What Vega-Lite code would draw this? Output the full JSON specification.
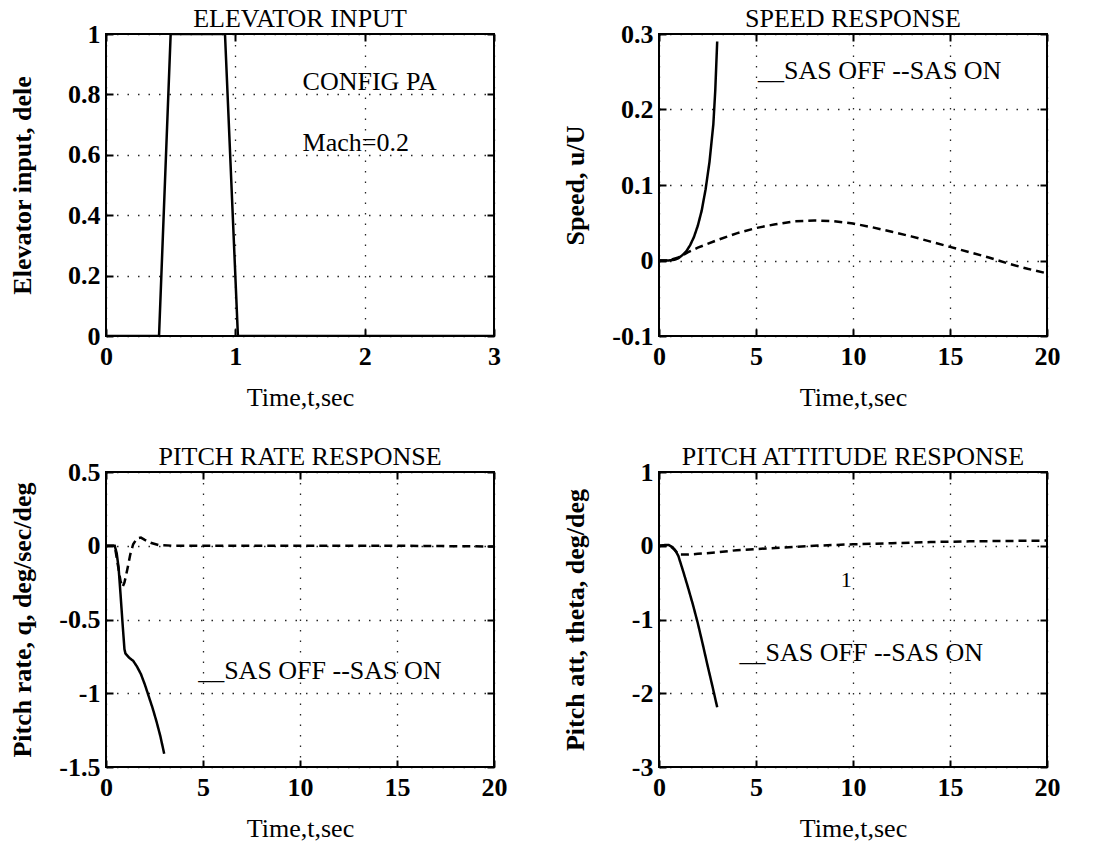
{
"$schema":"https://vega.github.io/schema/vega-lite/v6.json",
"background":"white",
"padding":{"left":7,"top":5,"right":5,"bottom":0},
"config":{
 "font":"Liberation Serif",
 "view":{"stroke":"#000","strokeWidth":2},
 "title":{"font":"Liberation Serif","fontSize":26,"fontWeight":"normal","color":"#000","offset":-11},
 "axis":{"domain":false,"grid":true,"gridColor":"#000","gridDash":[1.5,9],"gridWidth":1.3,"gridOpacity":0.85,
  "tickSize":-7,"tickColor":"#000","tickWidth":2,"labelFont":"Liberation Serif","labelFontSize":26,"labelFontWeight":"bold","labelColor":"#000","labelFlush":false,"labelOverlap":false,
  "titleFont":"Liberation Serif","titleFontSize":26,"titleColor":"#000","labelExpr":"'' + datum.value"},
 "axisX":{"labelPadding":14,"titleY":69,"titleFontWeight":"normal","titleBaseline":"alphabetic"},
 "axisY":{"labelPadding":13,"titleX":-76,"titleFontWeight":"bold","titleBaseline":"alphabetic"},
 "text":{"font":"Liberation Serif","fontSize":26,"color":"#000"}
},
"datasets":{
 "elev":[{"t":0,"v":0,"s":"SAS OFF"},{"t":0.41,"v":0,"s":"SAS OFF"},{"t":0.5,"v":1,"s":"SAS OFF"},{"t":0.92,"v":1,"s":"SAS OFF"},{"t":1.02,"v":0,"s":"SAS OFF"},{"t":3,"v":0,"s":"SAS OFF"}],
 "speed":[
  {"t":0,"v":0,"s":"SAS OFF"},{"t":0.5,"v":0,"s":"SAS OFF"},{"t":0.8,"v":0.001,"s":"SAS OFF"},{"t":1.0,"v":0.003,"s":"SAS OFF"},{"t":1.2,"v":0.007,"s":"SAS OFF"},{"t":1.4,"v":0.012,"s":"SAS OFF"},{"t":1.6,"v":0.02,"s":"SAS OFF"},{"t":1.8,"v":0.031,"s":"SAS OFF"},{"t":2.0,"v":0.046,"s":"SAS OFF"},{"t":2.2,"v":0.066,"s":"SAS OFF"},{"t":2.4,"v":0.094,"s":"SAS OFF"},{"t":2.6,"v":0.13,"s":"SAS OFF"},{"t":2.8,"v":0.18,"s":"SAS OFF"},{"t":2.9,"v":0.225,"s":"SAS OFF"},{"t":3.0,"v":0.29,"s":"SAS OFF"},
  {"t":0,"v":0,"s":"SAS ON"},{"t":0.5,"v":0,"s":"SAS ON"},{"t":1,"v":0.004,"s":"SAS ON"},{"t":1.5,"v":0.011,"s":"SAS ON"},{"t":2,"v":0.017,"s":"SAS ON"},{"t":3,"v":0.027,"s":"SAS ON"},{"t":4,"v":0.036,"s":"SAS ON"},{"t":5,"v":0.043,"s":"SAS ON"},{"t":6,"v":0.048,"s":"SAS ON"},{"t":7,"v":0.052,"s":"SAS ON"},{"t":8,"v":0.053,"s":"SAS ON"},{"t":9,"v":0.052,"s":"SAS ON"},{"t":10,"v":0.049,"s":"SAS ON"},{"t":11,"v":0.044,"s":"SAS ON"},{"t":12,"v":0.038,"s":"SAS ON"},{"t":13,"v":0.032,"s":"SAS ON"},{"t":14,"v":0.025,"s":"SAS ON"},{"t":15,"v":0.018,"s":"SAS ON"},{"t":16,"v":0.011,"s":"SAS ON"},{"t":17,"v":0.004,"s":"SAS ON"},{"t":18,"v":-0.004,"s":"SAS ON"},{"t":19,"v":-0.011,"s":"SAS ON"},{"t":20,"v":-0.017,"s":"SAS ON"}],
 "rate":[
  {"t":0,"v":0,"s":"SAS OFF"},{"t":0.45,"v":0,"s":"SAS OFF"},{"t":0.55,"v":-0.05,"s":"SAS OFF"},{"t":0.65,"v":-0.15,"s":"SAS OFF"},{"t":0.75,"v":-0.33,"s":"SAS OFF"},{"t":0.85,"v":-0.52,"s":"SAS OFF"},{"t":0.95,"v":-0.7,"s":"SAS OFF"},{"t":1.0,"v":-0.73,"s":"SAS OFF"},{"t":1.2,"v":-0.76,"s":"SAS OFF"},{"t":1.4,"v":-0.78,"s":"SAS OFF"},{"t":1.6,"v":-0.82,"s":"SAS OFF"},{"t":1.8,"v":-0.87,"s":"SAS OFF"},{"t":2.0,"v":-0.94,"s":"SAS OFF"},{"t":2.2,"v":-1.02,"s":"SAS OFF"},{"t":2.4,"v":-1.1,"s":"SAS OFF"},{"t":2.6,"v":-1.19,"s":"SAS OFF"},{"t":2.8,"v":-1.29,"s":"SAS OFF"},{"t":3.0,"v":-1.41,"s":"SAS OFF"},
  {"t":0,"v":0,"s":"SAS ON"},{"t":0.45,"v":0,"s":"SAS ON"},{"t":0.6,"v":-0.12,"s":"SAS ON"},{"t":0.75,"v":-0.24,"s":"SAS ON"},{"t":0.85,"v":-0.28,"s":"SAS ON"},{"t":0.95,"v":-0.25,"s":"SAS ON"},{"t":1.1,"v":-0.16,"s":"SAS ON"},{"t":1.25,"v":-0.06,"s":"SAS ON"},{"t":1.4,"v":0.01,"s":"SAS ON"},{"t":1.6,"v":0.05,"s":"SAS ON"},{"t":1.8,"v":0.055,"s":"SAS ON"},{"t":2.0,"v":0.04,"s":"SAS ON"},{"t":2.3,"v":0.02,"s":"SAS ON"},{"t":2.7,"v":0.005,"s":"SAS ON"},{"t":3.5,"v":0,"s":"SAS ON"},{"t":5,"v":0,"s":"SAS ON"},{"t":10,"v":0,"s":"SAS ON"},{"t":15,"v":0,"s":"SAS ON"},{"t":20,"v":-0.005,"s":"SAS ON"}],
 "att":[
  {"t":0,"v":0,"s":"SAS OFF"},{"t":0.3,"v":0.01,"s":"SAS OFF"},{"t":0.5,"v":0.01,"s":"SAS OFF"},{"t":0.7,"v":-0.02,"s":"SAS OFF"},{"t":0.9,"v":-0.09,"s":"SAS OFF"},{"t":1.0,"v":-0.14,"s":"SAS OFF"},{"t":1.25,"v":-0.35,"s":"SAS OFF"},{"t":1.5,"v":-0.57,"s":"SAS OFF"},{"t":1.75,"v":-0.8,"s":"SAS OFF"},{"t":2.0,"v":-1.05,"s":"SAS OFF"},{"t":2.25,"v":-1.33,"s":"SAS OFF"},{"t":2.5,"v":-1.62,"s":"SAS OFF"},{"t":2.75,"v":-1.9,"s":"SAS OFF"},{"t":3.0,"v":-2.19,"s":"SAS OFF"},
  {"t":0,"v":0,"s":"SAS ON"},{"t":0.5,"v":0.01,"s":"SAS ON"},{"t":0.8,"v":-0.05,"s":"SAS ON"},{"t":1.0,"v":-0.12,"s":"SAS ON"},{"t":1.5,"v":-0.12,"s":"SAS ON"},{"t":2,"v":-0.11,"s":"SAS ON"},{"t":3,"v":-0.09,"s":"SAS ON"},{"t":4,"v":-0.06,"s":"SAS ON"},{"t":5,"v":-0.045,"s":"SAS ON"},{"t":6,"v":-0.03,"s":"SAS ON"},{"t":7,"v":-0.015,"s":"SAS ON"},{"t":8,"v":0,"s":"SAS ON"},{"t":9,"v":0.01,"s":"SAS ON"},{"t":10,"v":0.02,"s":"SAS ON"},{"t":12,"v":0.035,"s":"SAS ON"},{"t":14,"v":0.05,"s":"SAS ON"},{"t":16,"v":0.06,"s":"SAS ON"},{"t":18,"v":0.065,"s":"SAS ON"},{"t":20,"v":0.07,"s":"SAS ON"}]
},
"columns":2,
"spacing":{"row":136,"column":165},
"bounds":"flush",
"concat":[
 {"width":388,"height":302,"title":"ELEVATOR INPUT",
  "layer":[
   {"data":{"name":"elev"},"mark":{"type":"line","strokeWidth":2.5,"color":"#000","clip":true},
    "encoding":{"x":{"field":"t","type":"quantitative","scale":{"domain":[0,3],"nice":false,"zero":false},"axis":{"values":[0,1,2,3],"title":"Time,t,sec"}},
     "y":{"field":"v","type":"quantitative","scale":{"domain":[0,1],"nice":false},"axis":{"values":[0,0.2,0.4,0.6,0.8,1],"title":"Elevator input, dele"}}}},
   {"data":{"name":"elev"},"mark":{"type":"line","opacity":0},
    "encoding":{"x":{"field":"t","type":"quantitative","axis":{"orient":"top","values":[0,1,2,3],"labels":false,"title":null,"grid":false}},
     "y":{"field":"v","type":"quantitative","axis":{"orient":"right","values":[0,0.2,0.4,0.6,0.8,1],"labels":false,"title":null,"grid":false}}}},
   {"data":{"values":[{}]},"mark":{"type":"text","text":"CONFIG PA","align":"left","baseline":"middle"},
    "encoding":{"x":{"datum":1.52,"type":"quantitative","axis":null},"y":{"datum":0.84,"type":"quantitative","axis":null}}},
   {"data":{"values":[{}]},"mark":{"type":"text","text":"Mach=0.2","align":"left","baseline":"middle"},
    "encoding":{"x":{"datum":1.52,"type":"quantitative","axis":null},"y":{"datum":0.64,"type":"quantitative","axis":null}}}
  ],
  "resolve":{"axis":{"x":"independent","y":"independent"}}},
 {"width":388,"height":302,"title":"SPEED RESPONSE",
  "layer":[
   {"data":{"name":"speed"},"mark":{"type":"line","strokeWidth":2.5,"color":"#000","clip":true},
    "encoding":{"x":{"field":"t","type":"quantitative","scale":{"domain":[0,20],"nice":false,"zero":false},"axis":{"values":[0,5,10,15,20],"title":"Time,t,sec"}},
     "y":{"field":"v","type":"quantitative","scale":{"domain":[-0.1,0.3],"nice":false,"zero":false},"axis":{"values":[-0.1,0,0.1,0.2,0.3],"title":"Speed, u/U"}},
     "strokeDash":{"field":"s","type":"nominal","scale":{"domain":["SAS OFF","SAS ON"],"range":[[1,0],[8,5]]},"legend":null}}},
   {"data":{"name":"speed"},"mark":{"type":"line","opacity":0},
    "encoding":{"x":{"field":"t","type":"quantitative","axis":{"orient":"top","values":[0,5,10,15,20],"labels":false,"title":null,"grid":false}},
     "y":{"field":"v","type":"quantitative","axis":{"orient":"right","values":[-0.1,0,0.1,0.2,0.3],"labels":false,"title":null,"grid":false}}}},
   {"data":{"values":[{}]},"mark":{"type":"text","text":"__SAS OFF --SAS ON","align":"left","baseline":"alphabetic"},
    "encoding":{"x":{"datum":5.1,"type":"quantitative","axis":null},"y":{"datum":0.24,"type":"quantitative","axis":null}}}
  ],
  "resolve":{"axis":{"x":"independent","y":"independent"}}},
 {"width":388,"height":295,"title":"PITCH RATE RESPONSE",
  "layer":[
   {"data":{"name":"rate"},"mark":{"type":"line","strokeWidth":2.5,"color":"#000","clip":true},
    "encoding":{"x":{"field":"t","type":"quantitative","scale":{"domain":[0,20],"nice":false,"zero":false},"axis":{"values":[0,5,10,15,20],"title":"Time,t,sec"}},
     "y":{"field":"v","type":"quantitative","scale":{"domain":[-1.5,0.5],"nice":false,"zero":false},"axis":{"values":[-1.5,-1,-0.5,0,0.5],"title":"Pitch rate, q, deg/sec/deg"}},
     "strokeDash":{"field":"s","type":"nominal","scale":{"domain":["SAS OFF","SAS ON"],"range":[[1,0],[8,5]]},"legend":null}}},
   {"data":{"name":"rate"},"mark":{"type":"line","opacity":0},
    "encoding":{"x":{"field":"t","type":"quantitative","axis":{"orient":"top","values":[0,5,10,15,20],"labels":false,"title":null,"grid":false}},
     "y":{"field":"v","type":"quantitative","axis":{"orient":"right","values":[-1.5,-1,-0.5,0,0.5],"labels":false,"title":null,"grid":false}}}},
   {"data":{"values":[{}]},"mark":{"type":"text","text":"__SAS OFF --SAS ON","align":"left","baseline":"alphabetic"},
    "encoding":{"x":{"datum":4.75,"type":"quantitative","axis":null},"y":{"datum":-0.9,"type":"quantitative","axis":null}}}
  ],
  "resolve":{"axis":{"x":"independent","y":"independent"}}},
 {"width":388,"height":295,"title":"PITCH ATTITUDE RESPONSE",
  "layer":[
   {"data":{"name":"att"},"mark":{"type":"line","strokeWidth":2.5,"color":"#000","clip":true},
    "encoding":{"x":{"field":"t","type":"quantitative","scale":{"domain":[0,20],"nice":false,"zero":false},"axis":{"values":[0,5,10,15,20],"title":"Time,t,sec"}},
     "y":{"field":"v","type":"quantitative","scale":{"domain":[-3,1],"nice":false,"zero":false},"axis":{"values":[-3,-2,-1,0,1],"title":"Pitch att, theta, deg/deg"}},
     "strokeDash":{"field":"s","type":"nominal","scale":{"domain":["SAS OFF","SAS ON"],"range":[[1,0],[8,5]]},"legend":null}}},
   {"data":{"name":"att"},"mark":{"type":"line","opacity":0},
    "encoding":{"x":{"field":"t","type":"quantitative","axis":{"orient":"top","values":[0,5,10,15,20],"labels":false,"title":null,"grid":false}},
     "y":{"field":"v","type":"quantitative","axis":{"orient":"right","values":[-3,-2,-1,0,1],"labels":false,"title":null,"grid":false}}}},
   {"data":{"values":[{}]},"mark":{"type":"text","text":"__SAS OFF --SAS ON","align":"left","baseline":"alphabetic"},
    "encoding":{"x":{"datum":4.15,"type":"quantitative","axis":null},"y":{"datum":-1.56,"type":"quantitative","axis":null}}},
   {"data":{"values":[{}]},"mark":{"type":"text","text":"1","align":"center","baseline":"middle","fontSize":22},
    "encoding":{"x":{"datum":9.65,"type":"quantitative","axis":null},"y":{"datum":-0.47,"type":"quantitative","axis":null}}}
  ],
  "resolve":{"axis":{"x":"independent","y":"independent"}}}
]
}
